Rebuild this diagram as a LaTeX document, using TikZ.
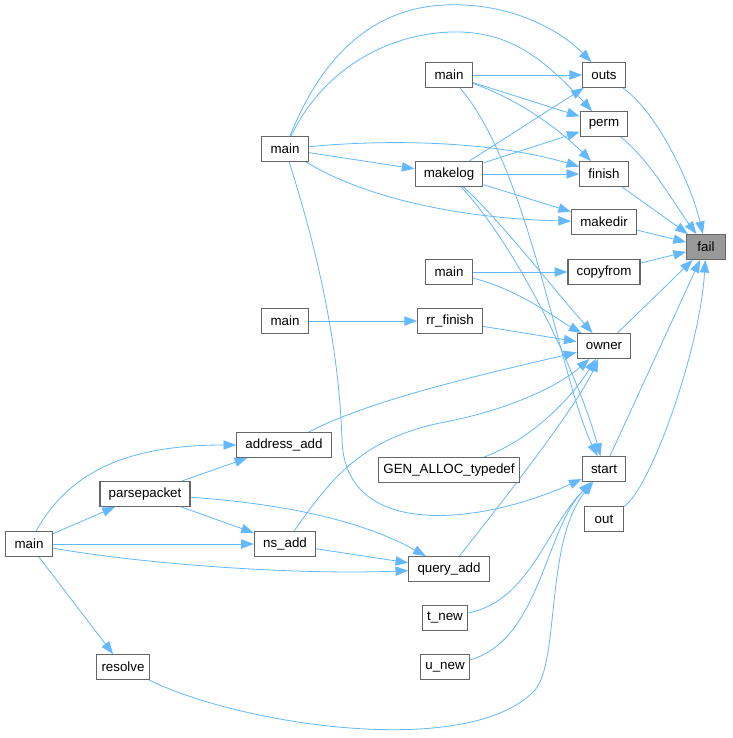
\documentclass[tikz,border=0pt]{standalone}
\usepackage{fontspec}
\setmainfont{Liberation Sans}
\usepackage{tikz}
\usetikzlibrary{arrows.meta,backgrounds}
\definecolor{edgeblue}{HTML}{63B8FF}
\definecolor{boxgray}{HTML}{666666}
\definecolor{failgray}{HTML}{999999}
\tikzset{
  fn/.style={draw=boxgray,fill=white,line width=0.9pt,minimum height=18.5pt,minimum width=29pt,inner xsep=6.5pt,font=\fontsize{10}{12}\selectfont},
  call/.style={draw=edgeblue,line width=0.6pt,-{Triangle[length=9.5pt,width=7pt]}}
}

\begin{document}
\begin{tikzpicture}[x=0.75pt,y=-0.75pt]
            \useasboundingbox (0,0) rectangle (732,738);
            \node[fn,fill=failgray] (fail) at (706,247) {fail};
            \node[fn] (outs) at (604,75) {outs};
            \node[fn] (perm) at (604,124) {perm};
            \node[fn] (finish) at (604,174) {finish};
            \node[fn] (makedir) at (604,222) {makedir};
            \node[fn] (copyfrom) at (604,272) {copyfrom};
            \node[fn] (owner) at (604,346) {owner};
            \node[fn] (start) at (604,469) {start};
            \node[fn] (out) at (604,519) {out};
            \node[fn] (mainA) at (449,75) {main};
            \node[fn] (makelog) at (449,174) {makelog};
            \node[fn] (mainC) at (449,272) {main};
            \node[fn] (rrfinish) at (450,321) {rr\_finish};
            \node[fn,inner xsep=3.5pt] (gen) at (449,470) {GEN\_ALLOC\_typedef};
            \node[fn] (queryadd) at (449,569) {query\_add};
            \node[fn,inner xsep=3.8pt] (tnew) at (445,618) {t\_new};
            \node[fn,inner xsep=3.8pt] (unew) at (445,667) {u\_new};
            \node[fn] (mainB) at (285,149) {main};
            \node[fn] (mainD) at (285,321) {main};
            \node[fn] (addressadd) at (284,445) {address\_add};
            \node[fn] (nsadd) at (285,544) {ns\_add};
            \node[fn] (parsepacket) at (145,494) {parsepacket};
            \node[fn,inner xsep=3.5pt] (resolve) at (123,667) {resolve};
            \node[fn] (mainE) at (29,544) {main};

            \begin{scope}[on background layer]
            \fill[white] (0,0) rectangle (732,738);
            \draw[call] (outs) .. controls (655,110) and (690,180) .. (fail);
            \draw[call] (perm) .. controls (650,160) and (675,205) .. (fail);
            \draw[call] (finish) -- (fail);
            \draw[call] (makedir) -- (fail);
            \draw[call] (copyfrom) -- (fail);
            \draw[call] (owner) -- (fail);
            \draw[call] (start) -- (fail);
            \draw[call] (out) .. controls (650,490) and (700,350) .. (fail);

            \draw[call] (mainA) -- (outs);
            \draw[call] (mainA) -- (perm);
            \draw[call] (mainA) .. controls (520,100) and (560,130) .. (finish);
            \draw[call] (mainA) .. controls (530,170) and (560,380) .. (start);
            \draw[call] (makelog) -- (outs);
            \draw[call] (makelog) -- (perm);
            \draw[call] (makelog) -- (finish);
            \draw[call] (makelog) -- (makedir);
            \draw[call] (makelog) .. controls (500,220) and (550,285) .. (owner);
            \draw[call] (makelog) .. controls (520,250) and (580,380) .. (start);

            \draw[call] (mainB) .. controls (320,60) and (370,8) .. (445,5) .. controls (510,2) and (560,30) .. (outs);
            \draw[call] (mainB) .. controls (320,75) and (380,35) .. (450,32) .. controls (510,30) and (545,60) .. (perm);
            \draw[call] (mainB) .. controls (400,138) and (500,143) .. (finish);
            \draw[call] (mainB) -- (makelog);
            \draw[call] (mainB) .. controls (360,195) and (450,218) .. (makedir);
            \draw[call] (mainB) .. controls (330,290) and (340,380) .. (342,440) .. controls (345,540) and (480,525) .. (start);

            \draw[call] (mainC) -- (copyfrom);
            \draw[call] (mainC) .. controls (520,290) and (555,318) .. (owner);
            \draw[call] (mainD) -- (rrfinish);
            \draw[call] (rrfinish) -- (owner);
            \draw[call] (addressadd) .. controls (370,400) and (480,375) .. (owner);
            \draw[call] (nsadd) .. controls (330,480) and (360,440) .. (440,423) .. controls (510,410) and (560,385) .. (owner);
            \draw[call] (gen) .. controls (530,440) and (570,400) .. (owner);
            \draw[call] (queryadd) .. controls (520,480) and (580,400) .. (owner);

            \draw[call] (mainE) -- (parsepacket);
            \draw[call] (mainE) -- (nsadd);
            \draw[call] (mainE) .. controls (150,565) and (300,575) .. (queryadd);
            \draw[call] (mainE) .. controls (70,470) and (130,445) .. (addressadd);
            \draw[call] (mainE) -- (resolve);
            \draw[call] (parsepacket) -- (addressadd);
            \draw[call] (parsepacket) -- (nsadd);
            \draw[call] (parsepacket) .. controls (300,505) and (370,525) .. (queryadd);
            \draw[call] (nsadd) -- (queryadd);

            \draw[call] (tnew) .. controls (530,600) and (545,530) .. (start);
            \draw[call] (unew) .. controls (540,640) and (545,530) .. (start);
            \draw[call] (resolve) .. controls (240,725) and (470,760) .. (535,690) .. controls (560,660) and (545,540) .. (start);
            \end{scope}
        \end{tikzpicture}
\end{document}
